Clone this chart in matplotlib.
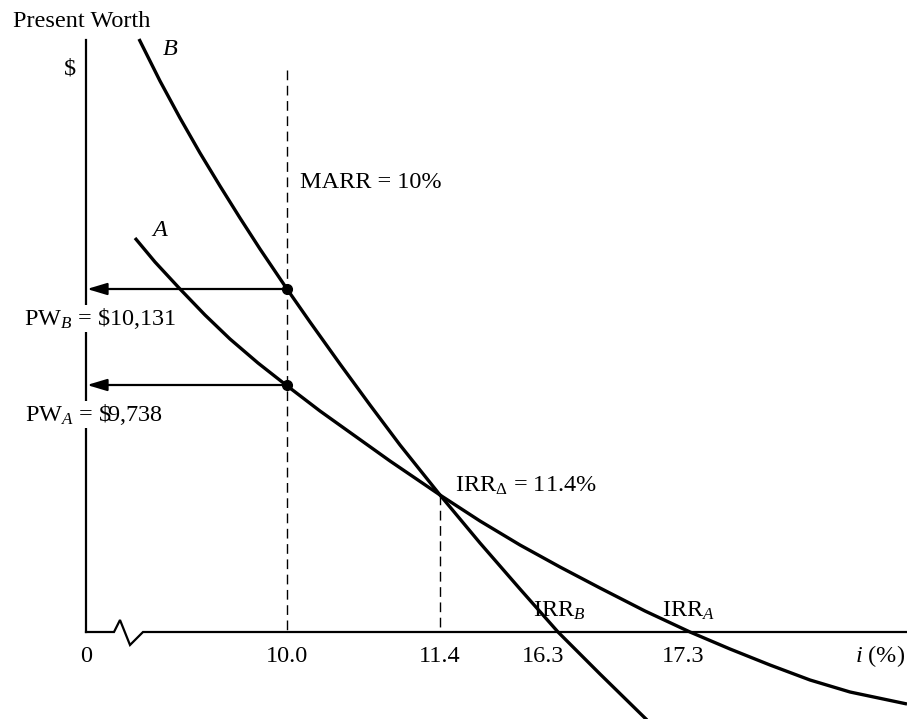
# Present worth profiles of projects A and B vs interest rate (schematic, broken i-axis)
import matplotlib
matplotlib.use("Agg")
import matplotlib.pyplot as plt
from matplotlib.patches import FancyArrowPatch

plt.rcParams['font.family'] = ['Liberation Serif', 'DejaVu Serif']
plt.rcParams['mathtext.fontset'] = 'custom'
plt.rcParams['mathtext.rm'] = 'Liberation Serif'
plt.rcParams['mathtext.it'] = 'Liberation Serif:italic'

# schematic drawing units (y grows downward)
curve_a_x = [135, 155, 180, 205, 230, 258, 286, 320, 355, 390, 440, 480, 520,
             560, 600, 645, 690, 730, 770, 810, 850, 907]
curve_a_y = [238, 262, 289, 315, 339, 363, 385, 411, 436, 461, 495, 521, 545,
             567, 588, 611, 632, 649, 665, 680, 692, 704]
curve_b_x = [139, 160, 180, 200, 220, 240, 260, 287, 310, 340, 370, 400, 440,
             480, 520, 558, 600, 647]
curve_b_y = [39, 81, 118, 153, 186, 218, 249, 289, 322, 364, 405, 445, 495,
             543, 589, 632, 674, 720]

rate_labels = ["0", "10.0", "11.4", "16.3", "17.3"]
rate_pos = [86, 287, 440, 543, 683]

MARR_X = 287
IRR_DELTA = (440, 495)
PW_B = (287, 289)
PW_A = (287, 385)
AXIS_X = 86
AXIS_Y = 632

FS = 17.5


def main():
  fig = plt.figure(figsize=(9.07, 7.19), dpi=100, facecolor='w')
  ax = fig.add_axes([0, 0, 1, 1])
  ax.set_xlim(0, 907)
  ax.set_ylim(719, 0)
  ax.axis('off')

  # axes with the break symbol on the i-axis
  ax.plot([AXIS_X, AXIS_X], [40, AXIS_Y], color='k', lw=1.6, zorder=2)
  ax.plot([AXIS_X, 114, 120, 130, 143, 907], [AXIS_Y, AXIS_Y, 620, 645, AXIS_Y, AXIS_Y],
          color='k', lw=1.6, zorder=2, solid_joinstyle='miter')

  # dashed guides
  ax.plot([MARR_X, MARR_X], [70, AXIS_Y], color='k', lw=1.0, dashes=(7, 4), zorder=2)
  ax.plot([IRR_DELTA[0], IRR_DELTA[0]], [IRR_DELTA[1], AXIS_Y], color='k', lw=1.0,
          dashes=(7, 4), zorder=2)

  # PW curves
  ax.plot(curve_a_x, curve_a_y, color='k', lw=2.4, zorder=3, solid_capstyle='butt',
          solid_joinstyle='round')
  ax.plot(curve_b_x, curve_b_y, color='k', lw=2.4, zorder=3, solid_capstyle='butt',
          solid_joinstyle='round')

  # arrows back to the PW axis
  for pt in [PW_B, PW_A]:
    arr = FancyArrowPatch((pt[0], pt[1]), (AXIS_X + 1, pt[1]),
                          arrowstyle='-|>,head_length=0.6,head_width=0.18',
                          mutation_scale=20, color='k', lw=1.6, shrinkA=0, shrinkB=0, zorder=3)
    ax.add_patch(arr)
    ax.plot(pt[0], pt[1], 'o', color='k', ms=7, zorder=4)

  # labels
  ax.text(13, 27, "Present Worth", fontsize=FS, va='baseline', ha='left')
  ax.text(70, 75, "$", fontsize=FS, va='baseline', ha='center')
  ax.text(163, 55, "B", fontsize=FS, style='italic', va='baseline', ha='left')
  ax.text(152, 236, "A", fontsize=FS, style='italic', va='baseline', ha='left')
  ax.text(300, 188, "MARR = 10%", fontsize=FS, va='baseline', ha='left')

  box = dict(facecolor='w', edgecolor='none', pad=1)
  ax.text(24, 325, r"PW$_{B}$ = \$10,131", fontsize=FS, va='baseline', ha='left',
          bbox=box, zorder=5)
  ax.text(25, 421, r"PW$_{A}$ = \$9,738", fontsize=FS, va='baseline', ha='left',
          bbox=box, zorder=5)
  ax.text(455, 492, r"IRR$_{\Delta}$ = 11.4%", fontsize=FS, va='baseline', ha='left')
  ax.text(533, 617, r"IRR$_{B}$", fontsize=FS, va='baseline', ha='left', zorder=1)
  ax.text(662, 617, r"IRR$_{A}$", fontsize=FS, va='baseline', ha='left', zorder=1)

  for lab, x in zip(rate_labels, rate_pos):
    ax.text(x, 662, lab, fontsize=FS, va='baseline', ha='center')
  ax.text(905, 662, r"$i$ (%)", fontsize=FS, va='baseline', ha='right')

  fig.savefig("out.png", dpi=100, facecolor='w')
  plt.close()


if __name__ == "__main__":
  main()
